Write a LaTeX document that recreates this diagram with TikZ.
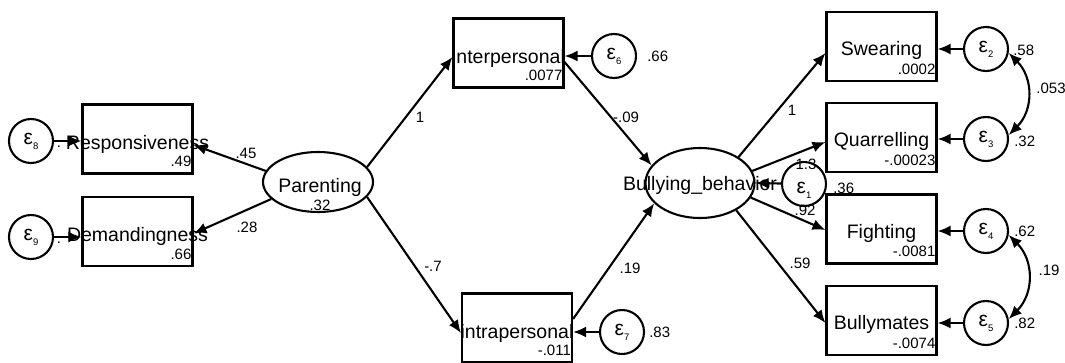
\documentclass[tikz,border=0pt]{standalone}
\usepackage{fontspec}
\setmainfont{Liberation Sans}
\usetikzlibrary{arrows.meta,shapes.geometric,calc}
\tikzset{
  obs/.style={draw, line width=2.1pt, minimum width=110pt, minimum height=69pt, inner sep=0pt},
  lat/.style={draw, ellipse, line width=2.1pt, inner sep=0pt},
  err/.style={draw, circle, line width=2.1pt, minimum size=44pt, inner sep=0pt, font=\fontsize{21}{21}\selectfont},
  arr/.style={line width=2.1pt, -{Latex[length=13pt,width=11pt]}},
  dbl/.style={line width=2.1pt, {Latex[length=13pt,width=11pt]}-{Latex[length=13pt,width=11pt]}},
  lbl/.style={font=\fontsize{19.5}{20}\selectfont, inner sep=0pt},
  num/.style={font=\fontsize{15}{15}\selectfont, inner sep=0pt},
}
\newcommand{\epsl}[1]{ε\raisebox{-5pt}{\fontsize{9.5}{9.5}\selectfont #1}}
\begin{document}
\begin{tikzpicture}[x=1pt,y=-1pt]
\fill[white] (0,0) rectangle (1065,362);
\useasboundingbox (0,0) rectangle (1065,362);
% observed boxes
\node[obs] (resp) at (137.5,139) {};
\node[obs] (dem) at (137.5,231.5) {};
\node[obs] (inter) at (508.5,53) {};
\node[obs] (intra) at (517,328) {};
\node[obs] (swear) at (881.5,46.5) {};
\node[obs] (quar) at (881.5,137.5) {};
\node[obs] (fight) at (881.5,229) {};
\node[obs] (bullym) at (881.5,320.5) {};
% latent
\node[lat, minimum width=110pt, minimum height=60pt] (par) at (318,182) {};
\node[lat, minimum width=109pt, minimum height=70pt] (bully) at (700,183) {};
% errors
\node[err] (e8) at (31,141) {\epsl{8}};
\node[err] (e9) at (31,237) {\epsl{9}};
\node[err] (e6) at (614,56) {\epsl{6}};
\node[err] (e7) at (622,332) {\epsl{7}};
\node[err] (e1) at (804,184) {};
\node[font=\fontsize{21}{21}\selectfont, inner sep=0pt, anchor=base] (te1) at ([yshift=-9pt]e1.center) {\epsl{1}};
\node[err] (e2) at (986,49) {\epsl{2}};
\node[err] (e3) at (986,139) {\epsl{3}};
\node[err] (e4) at (986,231) {\epsl{4}};
\node[err] (e5) at (986,323) {\epsl{5}};
% box texts
\node[lbl, anchor=base] (tresp) at ([yshift=-10pt]resp.center) {Responsiveness};
\node[lbl, anchor=base] (tdem) at ([yshift=-10pt]dem.center) {Demandingness};
\node[lbl, anchor=base] (tinter) at ([yshift=-10pt]inter.center) {interpersonal};
\node[lbl, anchor=base] (tintra) at ([yshift=-10pt]intra.center) {intrapersonal};
\node[lbl, anchor=base] (tswear) at ([yshift=-9pt]swear.center) {Swearing};
\node[lbl, anchor=base] (tquar) at ([yshift=-9pt]quar.center) {Quarrelling};
\node[lbl, anchor=base] (tfight) at ([yshift=-9pt]fight.center) {Fighting};
\node[lbl, anchor=base] (tbullym) at ([yshift=-9pt]bullym.center) {Bullymates};
\node[lbl, anchor=base] (tpar) at (320,192) {Parenting};
\node[lbl, anchor=base] (tbully) at (700,190) {Bullying\_behavior};
% box values
\node[num, anchor=base east] (vresp) at ([xshift=-2pt,yshift=8pt]resp.south east) {.49};
\node[num, anchor=base east] (vdem) at ([xshift=-2pt,yshift=8pt]dem.south east) {.66};
\node[num, anchor=base east] (vinter) at ([xshift=-2pt,yshift=8pt]inter.south east) {.0077};
\node[num, anchor=base east] (vintra) at ([xshift=-2pt,yshift=8pt]intra.south east) {-.011};
\node[num, anchor=base east] (vswear) at ([xshift=-2pt,yshift=8pt]swear.south east) {.0002};
\node[num, anchor=base east] (vquar) at ([xshift=-2pt,yshift=8pt]quar.south east) {-.00023};
\node[num, anchor=base east] (vfight) at ([xshift=-2pt,yshift=8pt]fight.south east) {-.0081};
\node[num, anchor=base east] (vbullym) at ([xshift=-2pt,yshift=8pt]bullym.south east) {-.0074};
\node[num, anchor=base] (vpar) at (320,210) {.32};
% error values
\node[num, anchor=base] (ve8) at (59,147) {.};
\node[num, anchor=base] (ve9) at (59,243) {.};
\node[num, anchor=base west] (ve6) at ([xshift=10pt,yshift=-5pt]e6.east) {.66};
\node[num, anchor=base west] (ve7) at ([xshift=4pt,yshift=-5pt]e7.east) {.83};
\node[num, anchor=base west] (ve1) at ([xshift=6pt,yshift=-9pt]e1.east) {.36};
\node[num, anchor=base west] (ve2) at ([xshift=4pt,yshift=-6pt]e2.east) {.58};
\node[num, anchor=base west] (ve3) at ([xshift=5pt,yshift=-7pt]e3.east) {.32};
\node[num, anchor=base west] (ve4) at ([xshift=5pt,yshift=-5pt]e4.east) {.62};
\node[num, anchor=base west] (ve5) at ([xshift=5pt,yshift=-5pt]e5.east) {.82};
% path labels
\node[num] (l45) at (246,153) {.45};
\node[num] (l28) at (247,227) {.28};
\node[num] (l1a) at (420,117) {1};
\node[num] (l09) at (626,117) {-.09};
\node[num] (l7) at (433,266) {-.7};
\node[num] (l19a) at (630,268) {.19};
\node[num] (l1b) at (792,110) {1};
\node[num] (l13) at (806,164) {1.3};
\node[num] (l92) at (805,210) {.92};
\node[num] (l59) at (800,263) {.59};
\node[num] (l053) at (1051,88) {.053};
\node[num] (l19b) at (1049,270) {.19};
% paths
\draw[arr] (par.168) -- ([yshift=-6pt]resp.east);
\draw[arr] (par.200) -- ([yshift=-2pt]dem.east);
\draw[arr] (par.17) -- ([yshift=-4pt]inter.west);
\draw[arr] (par.343) -- ([yshift=-5pt]intra.west);
\draw[arr] ([yshift=-9pt]inter.east) -- (bully.160);
\draw[arr] ([yshift=9pt]intra.east) -- (bully.204);
\draw[arr] (bully.34) -- ([yshift=-6.5pt]swear.west);
\draw[arr] (bully.13) -- ([yshift=-4.5pt]quar.west);
\draw[arr] (bully.344) -- ([yshift=-1pt]fight.west);
\draw[arr] (bully.323) -- ([yshift=-2.5pt]bullym.west);
% error arrows
\draw[arr] (e8) -- (e8 -| resp.west);
\draw[arr] (e9) -- (e9 -| dem.west);
\draw[arr] (e6) -- (e6 -| inter.east);
\draw[arr] (e7) -- (e7 -| intra.east);
\draw[arr] (e1) -- (bully.0);
\draw[arr] (e2) -- (e2 -| swear.east);
\draw[arr] (e3) -- (e3 -| quar.east);
\draw[arr] (e4) -- (e4 -| fight.east);
\draw[arr] (e5) -- (e5 -| bullym.east);
% covariances
\draw[dbl] (e2.-10) to[out=-45,in=45,looseness=1.1] (e3.10);
\draw[dbl] (e4.-10) to[out=-45,in=45,looseness=1.1] (e5.10);
\end{tikzpicture}
\end{document}
